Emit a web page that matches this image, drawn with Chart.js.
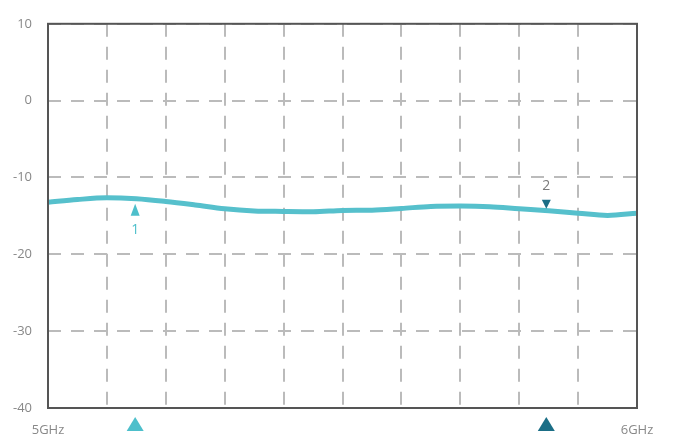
<!DOCTYPE html>
<html>
<head>
<meta charset="utf-8">
<script src="https://cdn.jsdelivr.net/npm/chart.js@4"></script>
<style>
  html, body { margin: 0; padding: 0; background: #fff; }
  #wrap { width: 673px; height: 434px; position: relative; }
</style>
</head>
<body>
<div id="wrap"><canvas id="c" width="673" height="434"></canvas></div>
<script>
// Data (frequency in GHz, level in dB)
const freqs = [5.00, 5.05, 5.10, 5.15, 5.20, 5.25, 5.30, 5.35, 5.40, 5.45, 5.50,
               5.55, 5.60, 5.65, 5.70, 5.75, 5.80, 5.85, 5.90, 5.95, 6.00];
const levels = [-13.23, -12.87, -12.65, -12.78, -13.13, -13.58, -14.07, -14.35, -14.42, -14.46, -14.29,
                -14.25, -14.03, -13.77, -13.72, -13.8, -14.07, -14.33, -14.64, -14.94, -14.64];
const markerLabels = ['1', '2'];
const markerFreqs = [5.148, 5.846];
const markerLevels = [-12.78, -14.33];
const yTicks = [10, 0, -10, -20, -30, -40];
const xTickLabels = { 5: '5GHz', 6: '6GHz' };

const lineColor = '#56C0CC';
const markerColors = ['#4DBFCB', '#1B6E86'];
const labelColors = ['#4DBFCB', '#7a7a7a'];
const fontFamily = "'Open Sans', 'Noto Sans', sans-serif";

const framePlugin = {
  id: 'frame',
  afterDraw(chart) {
    const { ctx, chartArea: a, scales } = chart;
    ctx.save();
    ctx.setLineDash([]);
    ctx.strokeStyle = '#555';
    ctx.lineWidth = 2;
    ctx.strokeRect(a.left, a.top, a.right - a.left, a.bottom - a.top);
    markerFreqs.forEach((f, i) => {
      const x = scales.x.getPixelForValue(f);
      const y = scales.y.getPixelForValue(markerLevels[i]);
      ctx.fillStyle = markerColors[i];
      ctx.beginPath();
      if (i === 0) {
        ctx.moveTo(x, y + 5); ctx.lineTo(x - 4.5, y + 17); ctx.lineTo(x + 4.5, y + 17);
      } else {
        ctx.moveTo(x, y - 2); ctx.lineTo(x - 4.5, y - 11); ctx.lineTo(x + 4.5, y - 11);
      }
      ctx.closePath(); ctx.fill();
      const b = a.bottom;
      ctx.beginPath();
      ctx.moveTo(x, b + 9); ctx.lineTo(x - 8.5, b + 23); ctx.lineTo(x + 8.5, b + 23);
      ctx.closePath(); ctx.fill();
      ctx.fillStyle = labelColors[i];
      ctx.font = '14px ' + fontFamily;
      ctx.textAlign = 'center';
      ctx.textBaseline = 'middle';
      ctx.fillText(markerLabels[i], x, i === 0 ? y + 31 : y - 25);
    });
    ctx.restore();
  }
};

new Chart(document.getElementById('c'), {
  type: 'line',
  data: {
    datasets: [{
      data: freqs.map((f, i) => ({ x: f, y: levels[i] })),
      borderColor: lineColor,
      borderWidth: 5,
      pointRadius: 0,
      tension: 0.4,
      cubicInterpolationMode: 'monotone',
      fill: false
    }]
  },
  options: {
    responsive: false,
    animation: false,
    layout: { padding: { top: 21, right: 36, left: 0, bottom: 0 } },
    plugins: { legend: { display: false }, tooltip: { enabled: false } },
    scales: {
      x: {
        type: 'linear',
        min: 5, max: 6,
        afterFit(s) { s.height = 26; },
        border: { display: false, dash: [13, 10] },
        grid: { color: '#bbbbbb', lineWidth: 2, drawTicks: false, tickLength: 0 },
        ticks: {
          stepSize: 0.1,
          autoSkip: false,
          maxRotation: 0,
          padding: 14,
          color: '#888',
          font: { family: fontFamily, size: 13 },
          callback(v) {
            const r = Math.round(v * 10) / 10;
            return xTickLabels[r] || '';
          }
        }
      },
      y: {
        min: -40, max: 10,
        afterFit(s) { s.width = 48; },
        afterBuildTicks(s) { s.ticks = yTicks.map(v => ({ value: v })); },
        border: { display: false, dash: [13, 10] },
        grid: { color: '#bbbbbb', lineWidth: 2, drawTicks: false, tickLength: 0 },
        ticks: {
          padding: 16,
          color: '#888',
          font: { family: fontFamily, size: 13 }
        }
      }
    }
  },
  plugins: [framePlugin]
});
</script>
</body>
</html>
